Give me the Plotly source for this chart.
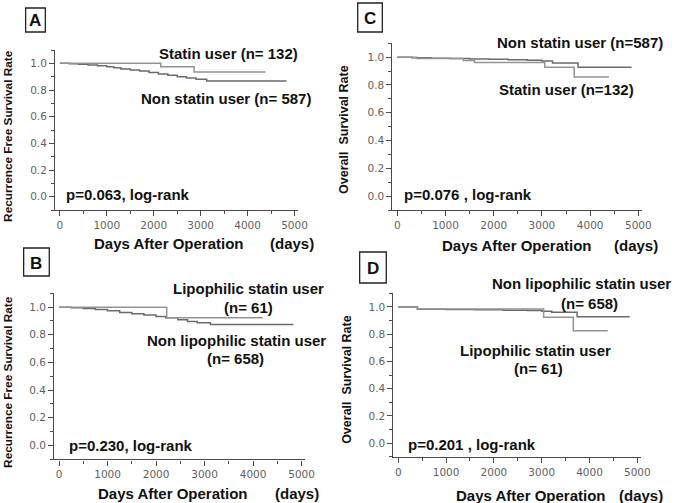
import plotly.graph_objects as go

W, H = 685, 503

# ---- data ----
# Panel A: recurrence free survival, statin vs non statin
a_statin_t = [0, 2150, 2860, 4380]
a_statin_s = [1.0, 0.975, 0.935, 0.935]
a_non_t = [0, 200, 400, 600, 800, 1000, 1150, 1300, 1500, 1700, 1900, 2100,
           2300, 2500, 2700, 2900, 3130, 4830]
a_non_s = [1.0, 0.997, 0.993, 0.988, 0.982, 0.975, 0.966, 0.958, 0.950, 0.942,
           0.932, 0.920, 0.910, 0.900, 0.890, 0.880, 0.868, 0.868]

# Panel B: recurrence free survival, lipophilic vs non lipophilic
b_lipo_t = [0, 2220, 4200]
b_lipo_s = [1.0, 0.924, 0.924]
b_non_t = [0, 250, 500, 750, 1000, 1250, 1500, 1750, 2000, 2200, 2450, 2650,
           2850, 3120, 4830]
b_non_s = [1.0, 0.995, 0.99, 0.982, 0.973, 0.962, 0.952, 0.944, 0.933, 0.924,
           0.908, 0.897, 0.887, 0.874, 0.874]

# Panel C: overall survival, statin vs non statin
c_non_t = [0, 300, 700, 1100, 1500, 1900, 2300, 2700, 3000, 3220, 3750, 4860]
c_non_s = [1.0, 0.996, 0.993, 0.99, 0.987, 0.985, 0.982, 0.978, 0.972, 0.958,
           0.928, 0.928]
c_statin_t = [0, 400, 1370, 1600, 3060, 3670, 4390]
c_statin_s = [1.0, 0.99, 0.977, 0.962, 0.928, 0.858, 0.858]

# Panel D: overall survival, lipophilic vs non lipophilic
d_non_t = [0, 400, 1000, 1600, 2200, 2700, 3000, 3210, 3740, 4840]
d_non_s = [1.0, 0.983, 0.981, 0.979, 0.976, 0.973, 0.969, 0.96, 0.928, 0.928]
d_lipo_t = [0, 400, 3040, 3660, 4380]
d_lipo_s = [1.0, 0.984, 0.924, 0.825, 0.825]

x_ticks = [0, 1000, 2000, 3000, 4000, 5000]
y_ticks = [0.0, 0.2, 0.4, 0.6, 0.8, 1.0]


def px(x):
    return x / W


def py(y):
    return 1 - y / H


# pixel boxes of each plot area: (left, right, top, bottom)
boxes = {
    "": (56, 302.7, 50, 210),
    "2": (55, 310, 293.3, 459.3),
    "3": (398.3, 651.7, 43.3, 210),
    "4": (399.3, 650.7, 293.3, 456.7),
}

DARK = "#6b6b6b"
LIGHT = "#939393"
AXIS = "#4a4a4a"

fig = go.Figure()

curves = [
    ("", a_non_t, a_non_s, DARK),
    ("", a_statin_t, a_statin_s, LIGHT),
    ("2", b_non_t, b_non_s, DARK),
    ("2", b_lipo_t, b_lipo_s, LIGHT),
    ("3", c_non_t, c_non_s, DARK),
    ("3", c_statin_t, c_statin_s, LIGHT),
    ("4", d_non_t, d_non_s, DARK),
    ("4", d_lipo_t, d_lipo_s, LIGHT),
]
for ax, t, s, col in curves:
    fig.add_trace(go.Scatter(
        x=t, y=s, mode="lines", line=dict(color=col, width=1.5, shape="hv"),
        xaxis="x" + ax, yaxis="y" + ax, showlegend=False, hoverinfo="skip",
    ))

tick_font = dict(family="DejaVu Sans", size=10.5, color="#5f5f5f")
layout = dict(
    width=W, height=H,
    margin=dict(l=0, r=0, t=0, b=0),
    paper_bgcolor="white", plot_bgcolor="white",
    showlegend=False,
)
for ax, (l, r, t, b) in boxes.items():
    layout["xaxis" + ax] = dict(
        domain=[px(l), px(r)], range=[-100, 5080], anchor="y" + ax,
        tickvals=x_ticks, ticks="outside", ticklen=5, tickwidth=1.2,
        tickcolor=AXIS, showline=True, linecolor=AXIS, linewidth=1.4,
        showgrid=False, zeroline=False, tickfont=tick_font,
        minor=dict(tickvals=[500, 1500, 2500, 3500, 4500], ticks="outside",
                   ticklen=3, tickcolor=AXIS, tickwidth=1),
    )
    layout["yaxis" + ax] = dict(
        domain=[py(b), py(t)], range=[-0.1, 1.1], anchor="x" + ax,
        tickvals=y_ticks, tickformat=".1f", ticks="outside", ticklen=5,
        tickwidth=1.2, tickcolor=AXIS, showline=True, linecolor=AXIS,
        linewidth=1.4, showgrid=False, zeroline=False, tickfont=tick_font,
        minor=dict(tickvals=[-0.1, 0.1, 0.3, 0.5, 0.7, 0.9, 1.1],
                   ticks="outside", ticklen=3, tickcolor=AXIS, tickwidth=1),
    )
fig.update_layout(**layout)

BOLD = "Liberation Sans"


def label(text, x, y, size=15, anchor="center", angle=0):
    fig.add_annotation(
        text=text, x=px(x), y=py(y), xref="paper", yref="paper",
        xanchor=anchor, yanchor="middle", showarrow=False, textangle=angle,
        font=dict(family=BOLD, size=size, color="#111111", weight="bold"),
    )


# curve labels
label("Statin user (n= 132)", 232, 53)
label("Non statin user (n= 587)", 229, 98)
label("p=0.063, log-rank", 65, 195, anchor="left")

label("Non statin user (n=587)", 589, 43)
label("Statin user (n=132)", 575, 89)
label("p=0.076 , log-rank", 408, 194, anchor="left")

label("Lipophilic statin user", 252, 288)
label("(n= 61)", 252, 307)
label("Non lipophilic statin user", 240, 340)
label("(n= 658)", 239, 358)
label("p=0.230, log-rank", 68, 445, anchor="left")

label("Non lipophilic statin user", 590, 283)
label("(n= 658)", 598, 303)
label("Lipophilic statin user", 543, 350)
label("(n= 61)", 546, 368)
label("p=0.201 , log-rank", 412, 444, anchor="left")

# axis titles
for xc, dx, y in [(171, 296, 243), (175, 301, 493), (524, 645, 245), (538, 651, 495)]:
    label("Days After Operation", xc, y)
    label("(days)", dx, y)
label("Recurrence Free Survival Rate", 8, 136, size=11.8, angle=-90)
label("Recurrence Free Survival Rate", 8, 382, size=11.8, angle=-90)
label("Overall&nbsp; Survival Rate", 349, 129, size=12.5, angle=-90)
label("Overall&nbsp; Survival Rate", 352, 379, size=12.5, angle=-90)

# panel letters in boxes
for letter, x0, y0, x1, y1 in [("A", 26, 8, 46, 32), ("B", 24, 248, 50, 276),
                               ("C", 363, 3, 388, 32), ("D", 365, 252, 392, 283)]:
    fig.add_shape(type="rect", xref="paper", yref="paper",
                  x0=px(x0), x1=px(x1), y0=py(y1), y1=py(y0),
                  line=dict(color="#222222", width=1.3), fillcolor="white")
    label(letter, (x0 + x1) / 2, (y0 + y1) / 2 + 1, size=17)

# drop the browser's default body margin so the figure sits at the page origin
fig.write_html("out.html", config={"displayModeBar": False},
               post_script="document.body.style.margin='0';")
